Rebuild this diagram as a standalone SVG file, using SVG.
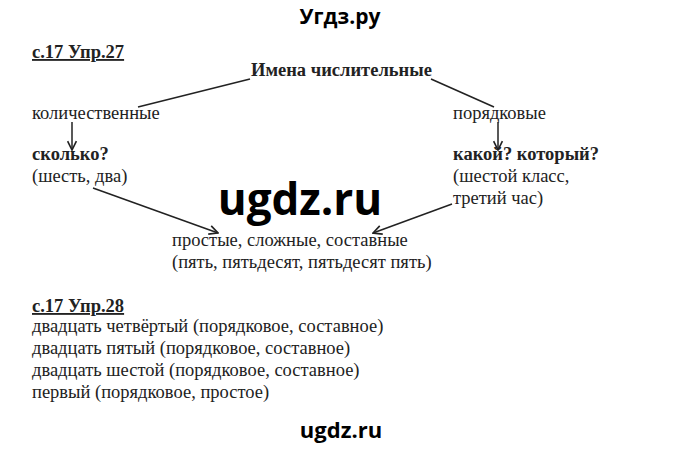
<svg xmlns="http://www.w3.org/2000/svg" width="680" height="449" viewBox="0 0 680 449">
<defs>
<style>
.s{font-family:"Liberation Serif","DejaVu Serif","Times New Roman",serif;font-size:18.5px;fill:#222}
.b{font-weight:bold}
.u{text-decoration:underline}
.w{font-family:"Open Sans","Liberation Sans",sans-serif;font-weight:bold;fill:#000}
.ln{stroke:#222;stroke-width:1.5;fill:none}
</style>
<marker id="ah" viewBox="0 0 10 10" refX="9" refY="5" markerWidth="11" markerHeight="11" markerUnits="userSpaceOnUse" orient="auto">
<path d="M1,1 L9,5 L1,9" fill="none" stroke="#222" stroke-width="1.5"/>
</marker>
</defs>
<rect width="680" height="449" fill="#fff"/>
<text class="w" x="340" y="24" font-size="21" text-anchor="middle">Угдз.ру</text>
<text class="s b u" x="32" y="58">с.17 Упр.27</text>
<g id="root"><text class="s b" x="251" y="76">Имена числительные</text></g>
<g id="kol"><text class="s" x="32" y="119">количественные</text></g>
<g id="por"><text class="s" x="453" y="119">порядковые</text></g>
<g id="skolko"><text class="s b" x="32" y="160">сколько?</text><text class="s" x="32" y="182">(шесть, два)</text></g>
<g id="kakoy"><text class="s b" x="453" y="160">какой? который?</text><text class="s" x="453" y="182">(шестой класс,</text><text class="s" x="453" y="204">третий час)</text></g>
<g id="vid"><text class="s" x="172" y="246">простые, сложные, составные</text><text class="s" x="172" y="268">(пять, пятьдесят, пятьдесят пять)</text></g>
<g id="connectors">
<line class="ln" x1="250" y1="79" x2="138" y2="107"/>
<line class="ln" x1="431" y1="79" x2="494" y2="107"/>
<line class="ln" x1="72" y1="122" x2="72" y2="150" marker-end="url(#ah)"/>
<line class="ln" x1="498" y1="122" x2="498" y2="150" marker-end="url(#ah)"/>
<line class="ln" x1="93" y1="188" x2="218" y2="233" marker-end="url(#ah)"/>
<line class="ln" x1="452" y1="204" x2="373" y2="233" marker-end="url(#ah)"/>
</g>
<text class="w" x="300" y="215" font-size="44" text-anchor="middle">ugdz.ru</text>
<text class="s b u" x="32" y="312">с.17 Упр.28</text>
<text class="s" x="32" y="332">двадцать четвёртый (порядковое, составное)</text>
<text class="s" x="32" y="354">двадцать пятый (порядковое, составное)</text>
<text class="s" x="32" y="376">двадцать шестой (порядковое, составное)</text>
<text class="s" x="32" y="398">первый (порядковое, простое)</text>
<text class="w" x="341" y="438" font-size="22" text-anchor="middle">ugdz.ru</text>
</svg>
